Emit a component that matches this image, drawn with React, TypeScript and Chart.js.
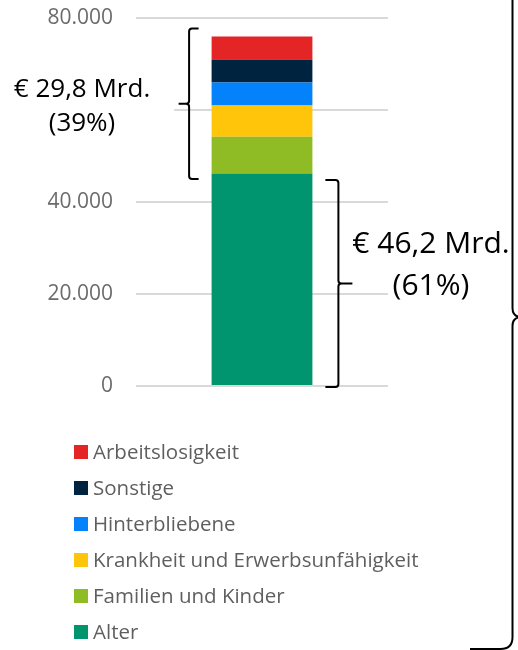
import React, { useEffect, useRef } from 'react';
import { Chart, registerables } from 'chart.js';

Chart.register(...registerables);

const categories = ['Sozialleistungen'];
const seriesNames = [
  'Alter',
  'Familien und Kinder',
  'Krankheit und Erwerbsunfähigkeit',
  'Hinterbliebene',
  'Sonstige',
  'Arbeitslosigkeit',
];
const alterValues = [46200];
const familienValues = [8000];
const krankheitValues = [6800];
const hinterbliebeneValues = [5000];
const sonstigeValues = [5000];
const arbeitslosigkeitValues = [5000];
const seriesColors = ['#00956F', '#8FBB25', '#FEC50B', '#0382FB', '#00233F', '#E32526'];
const yTickValues = [0, 20000, 40000, 60000, 80000];
const yTickLabels = ['0', '20.000', '40.000', '60.000', '80.000'];
const topShareLabel = ['€ 29,8 Mrd.', '(39%)'];
const bottomShareLabel = ['€ 46,2 Mrd.', '(61%)'];

const seriesValues = [
  alterValues,
  familienValues,
  krankheitValues,
  hinterbliebeneValues,
  sonstigeValues,
  arbeitslosigkeitValues,
];

function drawBrace(
  ctx: CanvasRenderingContext2D,
  vx: number,
  top: number,
  bottom: number,
  serifX: number,
  tipX: number,
  r: number,
  rm: number,
  mid?: number
) {
  const m = mid === undefined ? (top + bottom) / 2 : mid;
  const s = Math.sign(serifX - vx);
  const d = Math.sign(tipX - vx);
  ctx.beginPath();
  ctx.moveTo(serifX, top);
  ctx.lineTo(vx + s * r, top);
  ctx.quadraticCurveTo(vx, top, vx, top + r);
  ctx.lineTo(vx, m - rm);
  ctx.quadraticCurveTo(vx, m, vx + d * rm, m);
  ctx.lineTo(tipX, m);
  ctx.moveTo(tipX, m);
  ctx.lineTo(vx + d * rm, m);
  ctx.quadraticCurveTo(vx, m, vx, m + rm);
  ctx.lineTo(vx, bottom - r);
  ctx.quadraticCurveTo(vx, bottom, vx + s * r, bottom);
  ctx.lineTo(serifX, bottom);
  ctx.stroke();
}

const annotationPlugin = {
  id: 'shareAnnotations',
  afterDraw(chart: any) {
    const ctx: CanvasRenderingContext2D = chart.ctx;
    const y = chart.scales.y;
    const bar = chart.getDatasetMeta(0).data[0] as any;
    const barLeft = bar.x - bar.width / 2;
    const barRight = bar.x + bar.width / 2;
    const total = seriesValues.reduce((a, v) => a + v[0], 0);
    const yZero = y.getPixelForValue(0);
    const yAlterTop = y.getPixelForValue(alterValues[0]);
    const yTotal = y.getPixelForValue(total);

    ctx.save();
    // left brace (non-age benefits)
    const lTop = yTotal - 8;
    const lBottom = yAlterTop + 5.5;
    const lMid = (lTop + lBottom) / 2;
    const lvx = barLeft - 22.5;
    ctx.fillStyle = '#ffffff';
    ctx.fillRect(0, lMid - 36, lvx - 15, 72);

    ctx.strokeStyle = '#000000';
    ctx.lineWidth = 2;
    ctx.lineCap = 'butt';
    drawBrace(ctx, lvx, lTop, lBottom, barLeft - 13, barLeft - 33, 3, 3);

    // right brace (age)
    const rTop = yAlterTop + 6.5;
    const rBottom = yZero + 1;
    const rMid = (rTop + rBottom) / 2;
    const rvx = barRight + 26;
    drawBrace(ctx, rvx, rTop, rBottom, barRight + 13, barRight + 40, 3, 3);

    // big brace at right edge
    drawBrace(ctx, 512.5, -15, 649, 470, 523, 12, 9, 317);

    // texts
    ctx.fillStyle = '#000000';
    ctx.textAlign = 'center';
    ctx.textBaseline = 'alphabetic';
    ctx.font = '26px "Open Sans"';
    ctx.fillText(topShareLabel[0], 82, lMid - 6.4);
    ctx.fillText(topShareLabel[1], 82, lMid + 27.6);
    ctx.font = '30px "Open Sans"';
    ctx.fillText(bottomShareLabel[0], 431, rMid - 30);
    ctx.fillText(bottomShareLabel[1], 431, rMid + 11.5);

    // legend (reverse order, vertical)
    const ds = chart.data.datasets;
    ctx.font = '20.5px "Open Sans"';
    ctx.textAlign = 'left';
    for (let i = ds.length - 1, k = 0; i >= 0; i--, k++) {
      const cy = 452 + 36 * k;
      ctx.fillStyle = ds[i].backgroundColor as string;
      ctx.fillRect(74, cy - 7, 14, 14);
      ctx.fillStyle = '#5f5f5f';
      ctx.fillText(ds[i].label, 93, cy + 7.2);
    }
    ctx.restore();
  },
};

export default function App() {
  const canvasRef = useRef<HTMLCanvasElement | null>(null);

  useEffect(() => {
    let chart: Chart | null = null;
    let cancelled = false;
    const make = () => {
      if (cancelled || !canvasRef.current) return;
      chart = new Chart(canvasRef.current, {
        type: 'bar',
        data: {
          labels: categories,
          datasets: seriesNames.map((name, i) => ({
            label: name,
            data: seriesValues[i],
            backgroundColor: seriesColors[i],
            borderWidth: 0,
            barPercentage: 0.4,
            categoryPercentage: 1,
          })),
        },
        options: {
          animation: false,
          responsive: true,
          maintainAspectRatio: false,
          layout: { padding: { left: 0, right: 130, top: 18, bottom: 264 } },
          plugins: {
            legend: { display: false },
            tooltip: { enabled: false },
          },
          scales: {
            x: { stacked: true, display: false },
            y: {
              stacked: true,
              min: 0,
              max: 80000,
              afterFit: (scale: any) => {
                scale.width = 136;
                scale.paddingTop = 0;
                scale.paddingBottom = 0;
              },
              afterBuildTicks: (scale: any) => {
                scale.ticks = yTickValues.map((v) => ({ value: v }));
              },
              ticks: {
                padding: 23,
                color: '#6b6b6b',
                font: { family: '"Open Sans"', size: 21 },
                callback: (value: any) => {
                  const i = yTickValues.indexOf(Number(value));
                  return i >= 0 ? yTickLabels[i] : '';
                },
              },
              grid: { color: '#d9d9d9', lineWidth: 2, drawTicks: false },
              border: { display: false },
            },
          },
        },
        plugins: [annotationPlugin],
      });
    };
    const fontsApi = (document as any).fonts;
    if (fontsApi && fontsApi.load) {
      Promise.all([fontsApi.load('20px "Open Sans"')])
        .catch(() => undefined)
        .then(make);
    } else {
      make();
    }
    return () => {
      cancelled = true;
      if (chart) chart.destroy();
    };
  }, []);

  return (
    <div style={{ position: 'absolute', left: 0, top: 0, width: 518, height: 650, background: '#ffffff' }}>
      <canvas ref={canvasRef} />
    </div>
  );
}
